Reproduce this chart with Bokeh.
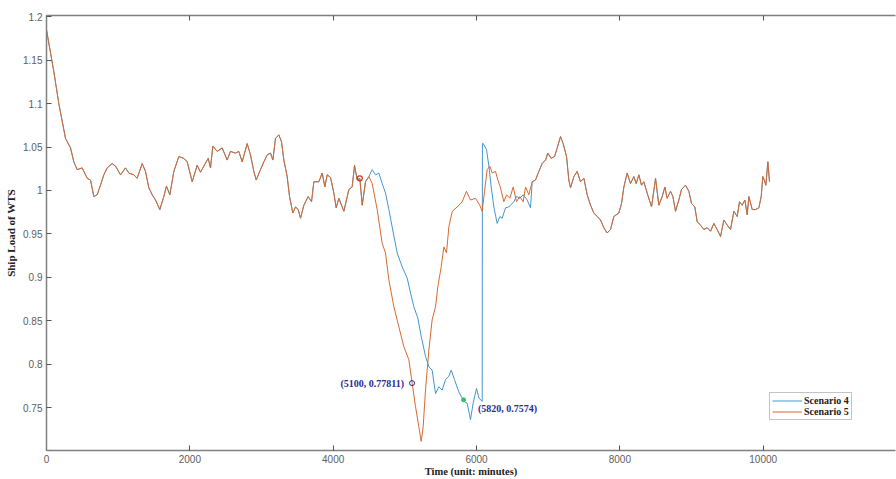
from bokeh.plotting import figure
from bokeh.models import Range1d, FixedTicker, LinearAxis, Legend, LegendItem, CustomJSTickFormatter
from bokeh.core.properties import value
from bokeh.embed import file_html
from bokeh.resources import INLINE

# ---- data ----
time_common_a = [0, 102, 172, 265, 335, 381, 428, 498, 568, 614, 660, 707, 753, 800, 846, 916, 963,
                 1033, 1102, 1149, 1219, 1265, 1335, 1381, 1428, 1475, 1521, 1581, 1637, 1674, 1721,
                 1777, 1846, 1916, 1963, 2033, 2102, 2149, 2195, 2256, 2288, 2321, 2381, 2451, 2521,
                 2567, 2637, 2683, 2730, 2800, 2846, 2893, 2926, 2986, 3033, 3079, 3126, 3158, 3195,
                 3242, 3279, 3312, 3358, 3391, 3437, 3474, 3512, 3544, 3591, 3651, 3698, 3730, 3800,
                 3847, 3884, 3916, 3963, 4009, 4042, 4079, 4149, 4219, 4265, 4298, 4335, 4372, 4405,
                 4451, 4498]
load_common_a = [1.185, 1.137, 1.100, 1.060, 1.049, 1.033, 1.024, 1.026, 1.014, 1.012, 0.993, 0.995,
                 1.006, 1.018, 1.026, 1.031, 1.028, 1.018, 1.026, 1.020, 1.018, 1.014, 1.031, 1.022,
                 1.003, 0.995, 0.989, 0.978, 0.993, 1.005, 0.995, 1.022, 1.039, 1.037, 1.033, 1.010,
                 1.029, 1.021, 1.028, 1.037, 1.026, 1.051, 1.045, 1.049, 1.035, 1.045, 1.043, 1.045,
                 1.033, 1.054, 1.041, 1.022, 1.012, 1.024, 1.033, 1.041, 1.043, 1.035, 1.060, 1.064,
                 1.056, 1.035, 1.016, 0.993, 0.974, 0.981, 0.978, 0.968, 0.983, 0.993, 0.987, 1.010,
                 1.010, 1.020, 1.004, 1.018, 1.015, 0.997, 0.980, 0.991, 0.976, 1.001, 1.004, 1.029,
                 1.012, 1.014, 0.983, 1.010, 1.016]

time_s5_mid = [4544, 4614, 4684, 4730, 4777, 4847, 4916, 4986, 5056, 5102, 5149, 5195, 5228, 5256,
               5288, 5335, 5381, 5428, 5460, 5507, 5544, 5581, 5614, 5661, 5730, 5800, 5860, 5916,
               5986, 6045, 6079, 6112, 6149, 6186, 6219, 6265, 6298, 6335, 6381, 6419, 6465, 6512,
               6558, 6605, 6651, 6684, 6730, 6777]
load_s5_mid = [1.008, 0.978, 0.939, 0.928, 0.897, 0.866, 0.843, 0.820, 0.805, 0.778, 0.751, 0.728,
               0.711, 0.728, 0.770, 0.816, 0.851, 0.866, 0.889, 0.912, 0.935, 0.928, 0.958, 0.976,
               0.981, 0.987, 0.999, 0.989, 0.991, 0.983, 0.976, 0.999, 1.024, 1.028, 1.020, 1.022,
               1.012, 1.003, 0.987, 0.995, 0.991, 1.004, 0.987, 0.993, 0.987, 1.004, 0.995, 1.010]

time_s4_mid = [4544, 4591, 4637, 4684, 4730, 4777, 4823, 4893, 4963, 5033, 5079, 5126, 5181, 5228,
               5288, 5335, 5381, 5428, 5474, 5521, 5567, 5614, 5647, 5693, 5753, 5823, 5870, 5916,
               5953, 6000, 6033, 6079, 6082, 6093, 6140, 6172, 6205, 6242, 6288, 6326, 6358, 6405,
               6451, 6521, 6558, 6605, 6651, 6707, 6753, 6777]
load_s4_mid = [1.024, 1.018, 1.020, 1.008, 0.997, 0.978, 0.958, 0.928, 0.912, 0.899, 0.882, 0.866,
               0.853, 0.832, 0.809, 0.797, 0.793, 0.766, 0.774, 0.770, 0.782, 0.786, 0.793, 0.782,
               0.768, 0.757, 0.755, 0.736, 0.755, 0.772, 0.761, 0.757, 1.054, 1.054, 1.047, 1.028,
               1.004, 0.981, 0.962, 0.970, 0.968, 0.980, 0.981, 0.987, 0.993, 0.991, 0.995, 0.989,
               0.980, 1.010]

time_common_b = [6823, 6870, 6916, 6963, 6995, 7042, 7088, 7126, 7172, 7209, 7256, 7288, 7312, 7358,
                 7405, 7451, 7498, 7544, 7591, 7637, 7684, 7730, 7777, 7823, 7870, 7916, 7986, 8023,
                 8056, 8102, 8149, 8195, 8228, 8265, 8302, 8335, 8381, 8442, 8498, 8544, 8591, 8628,
                 8660, 8707, 8740, 8777, 8823, 8860, 8916, 8963, 9000, 9046, 9079, 9126, 9172, 9219,
                 9265, 9312, 9358, 9405, 9451, 9498, 9544, 9591, 9637, 9670, 9707, 9744, 9777, 9800,
                 9847, 9893, 9940, 9972, 9995, 10023, 10037, 10065, 10088]
load_common_b = [1.012, 1.022, 1.031, 1.035, 1.043, 1.037, 1.039, 1.049, 1.062, 1.054, 1.039, 1.012,
                 1.003, 1.016, 1.022, 1.010, 1.014, 0.995, 0.983, 0.974, 0.970, 0.966, 0.957, 0.951,
                 0.955, 0.970, 0.974, 0.985, 1.004, 1.020, 1.008, 1.016, 1.008, 1.018, 1.006, 1.010,
                 0.997, 0.981, 1.014, 0.983, 0.993, 1.004, 0.991, 0.999, 0.993, 0.976, 0.989, 1.001,
                 1.006, 0.999, 0.985, 0.981, 0.964, 0.960, 0.955, 0.957, 0.953, 0.962, 0.955, 0.947,
                 0.966, 0.960, 0.955, 0.976, 0.970, 0.987, 0.983, 0.989, 0.972, 0.993, 0.978, 0.978,
                 0.980, 0.993, 1.016, 1.010, 1.006, 1.033, 1.010]

# data tips
tip_x = [5100, 5820]
tip_y = [0.77811, 0.7574]
tip_labels = ["(5100, 0.77811)", "(5820, 0.7574)"]
red_tip_x = [4372]
red_tip_y = [1.014]

x_ticks = [0, 2000, 4000, 6000, 8000, 10000, 12000]
y_ticks = [0.75, 0.8, 0.85, 0.9, 0.95, 1.0, 1.05, 1.1, 1.15, 1.2]
y_tick_labels = {0.75: "0.75", 0.8: "0.8", 0.85: "0.85", 0.9: "0.9", 0.95: "0.95",
                 1.0: "1", 1.05: "1.05", 1.1: "1.1", 1.15: "1.15", 1.2: "1.2"}

s4_t = time_common_a + time_s4_mid + time_common_b
s4_v = load_common_a + load_s4_mid + load_common_b
s5_t = time_common_a + time_s5_mid + time_common_b
s5_v = load_common_a + load_s5_mid + load_common_b

BLUE = "#4596cb"
ORANGE = "#d9692f"
AXIS = "#808080"
TICKC = "#5e5e5e"
NAVY = "#2b2b95"

p = figure(width=896, height=479, output_backend="svg", toolbar_location=None,
           x_range=Range1d(0, 11846), y_range=Range1d(0.7005, 1.2015),
           min_border_left=46, min_border_top=15, min_border_bottom=28, min_border_right=1,
           x_axis_label="Time (unit: minutes)", y_axis_label="Ship Load of WTS")
p.outline_line_color = None
p.grid.visible = False
p.background_fill_color = "white"

r4 = p.line(s4_t, s4_v, line_color=BLUE, line_width=1)
r5 = p.line(s5_t, s5_v, line_color=ORANGE, line_width=1)

# data tip markers
p.scatter([tip_x[0]], [tip_y[0]], marker="circle", size=5, fill_color=None, line_color=NAVY, line_width=1)
p.scatter([tip_x[1]], [tip_y[1] + 0.0015], marker="circle", size=4, fill_color="#33c060", line_color="#33c060")
p.scatter(red_tip_x, red_tip_y, marker="circle", size=5, fill_color=None, line_color="#c0392b", line_width=1.2)

p.text([tip_x[0] - 110], [tip_y[0]], text=[tip_labels[0]], text_align="right", text_baseline="middle",
       text_font=value("Liberation Serif"), text_font_style="bold", text_font_size="10px", text_color=NAVY)
p.text([tip_x[1] + 200], [tip_y[1] - 0.008], text=[tip_labels[1]], text_align="left", text_baseline="middle",
       text_font=value("Liberation Serif"), text_font_style="bold", text_font_size="10px", text_color=NAVY)

for ax in (p.xaxis[0], p.yaxis[0]):
    ax.axis_line_color = AXIS
    ax.axis_line_width = 1.5
    ax.major_tick_line_color = "#555555"
    ax.major_tick_in = 5
    ax.major_tick_out = 0
    ax.minor_tick_line_color = None
    ax.major_label_text_font = "Liberation Sans"
    ax.major_label_text_font_size = "10px"
    ax.major_label_text_color = TICKC
    ax.axis_label_text_font = "Liberation Serif"
    ax.axis_label_text_font_style = "bold"
    ax.axis_label_text_color = "#222222"

p.xaxis.ticker = FixedTicker(ticks=x_ticks)
p.yaxis.ticker = FixedTicker(ticks=y_ticks)
p.yaxis.major_label_overrides = y_tick_labels
p.xaxis.axis_label_text_font_size = "10.5px"
p.yaxis.axis_label_text_font_size = "11px"
p.xaxis.major_label_standoff = 4
p.yaxis.major_label_standoff = 4
p.xaxis.axis_label_standoff = 0
p.yaxis.axis_label_standoff = 3

top = LinearAxis(ticker=FixedTicker(ticks=x_ticks), axis_line_color=AXIS, axis_line_width=1.5,
                 major_tick_line_color="#555555", major_tick_in=5, major_tick_out=0,
                 minor_tick_line_color=None, major_label_standoff=0,
                 formatter=CustomJSTickFormatter(code="return '';"))
p.add_layout(top, "above")

legend = Legend(items=[LegendItem(label="Scenario 4", renderers=[r4]),
                       LegendItem(label="Scenario 5", renderers=[r5])],
                location=(723, 30), border_line_color="#888888", border_line_width=1,
                background_fill_color="white", background_fill_alpha=1,
                label_text_font="Liberation Serif", label_text_font_style="bold",
                label_text_font_size="10px", label_text_color="#222222",
                glyph_width=30, glyph_height=11, label_height=11, label_standoff=2,
                padding=2, spacing=0, margin=0)
p.add_layout(legend, "center")

open("out.html", "w").write(file_html(p, INLINE))
